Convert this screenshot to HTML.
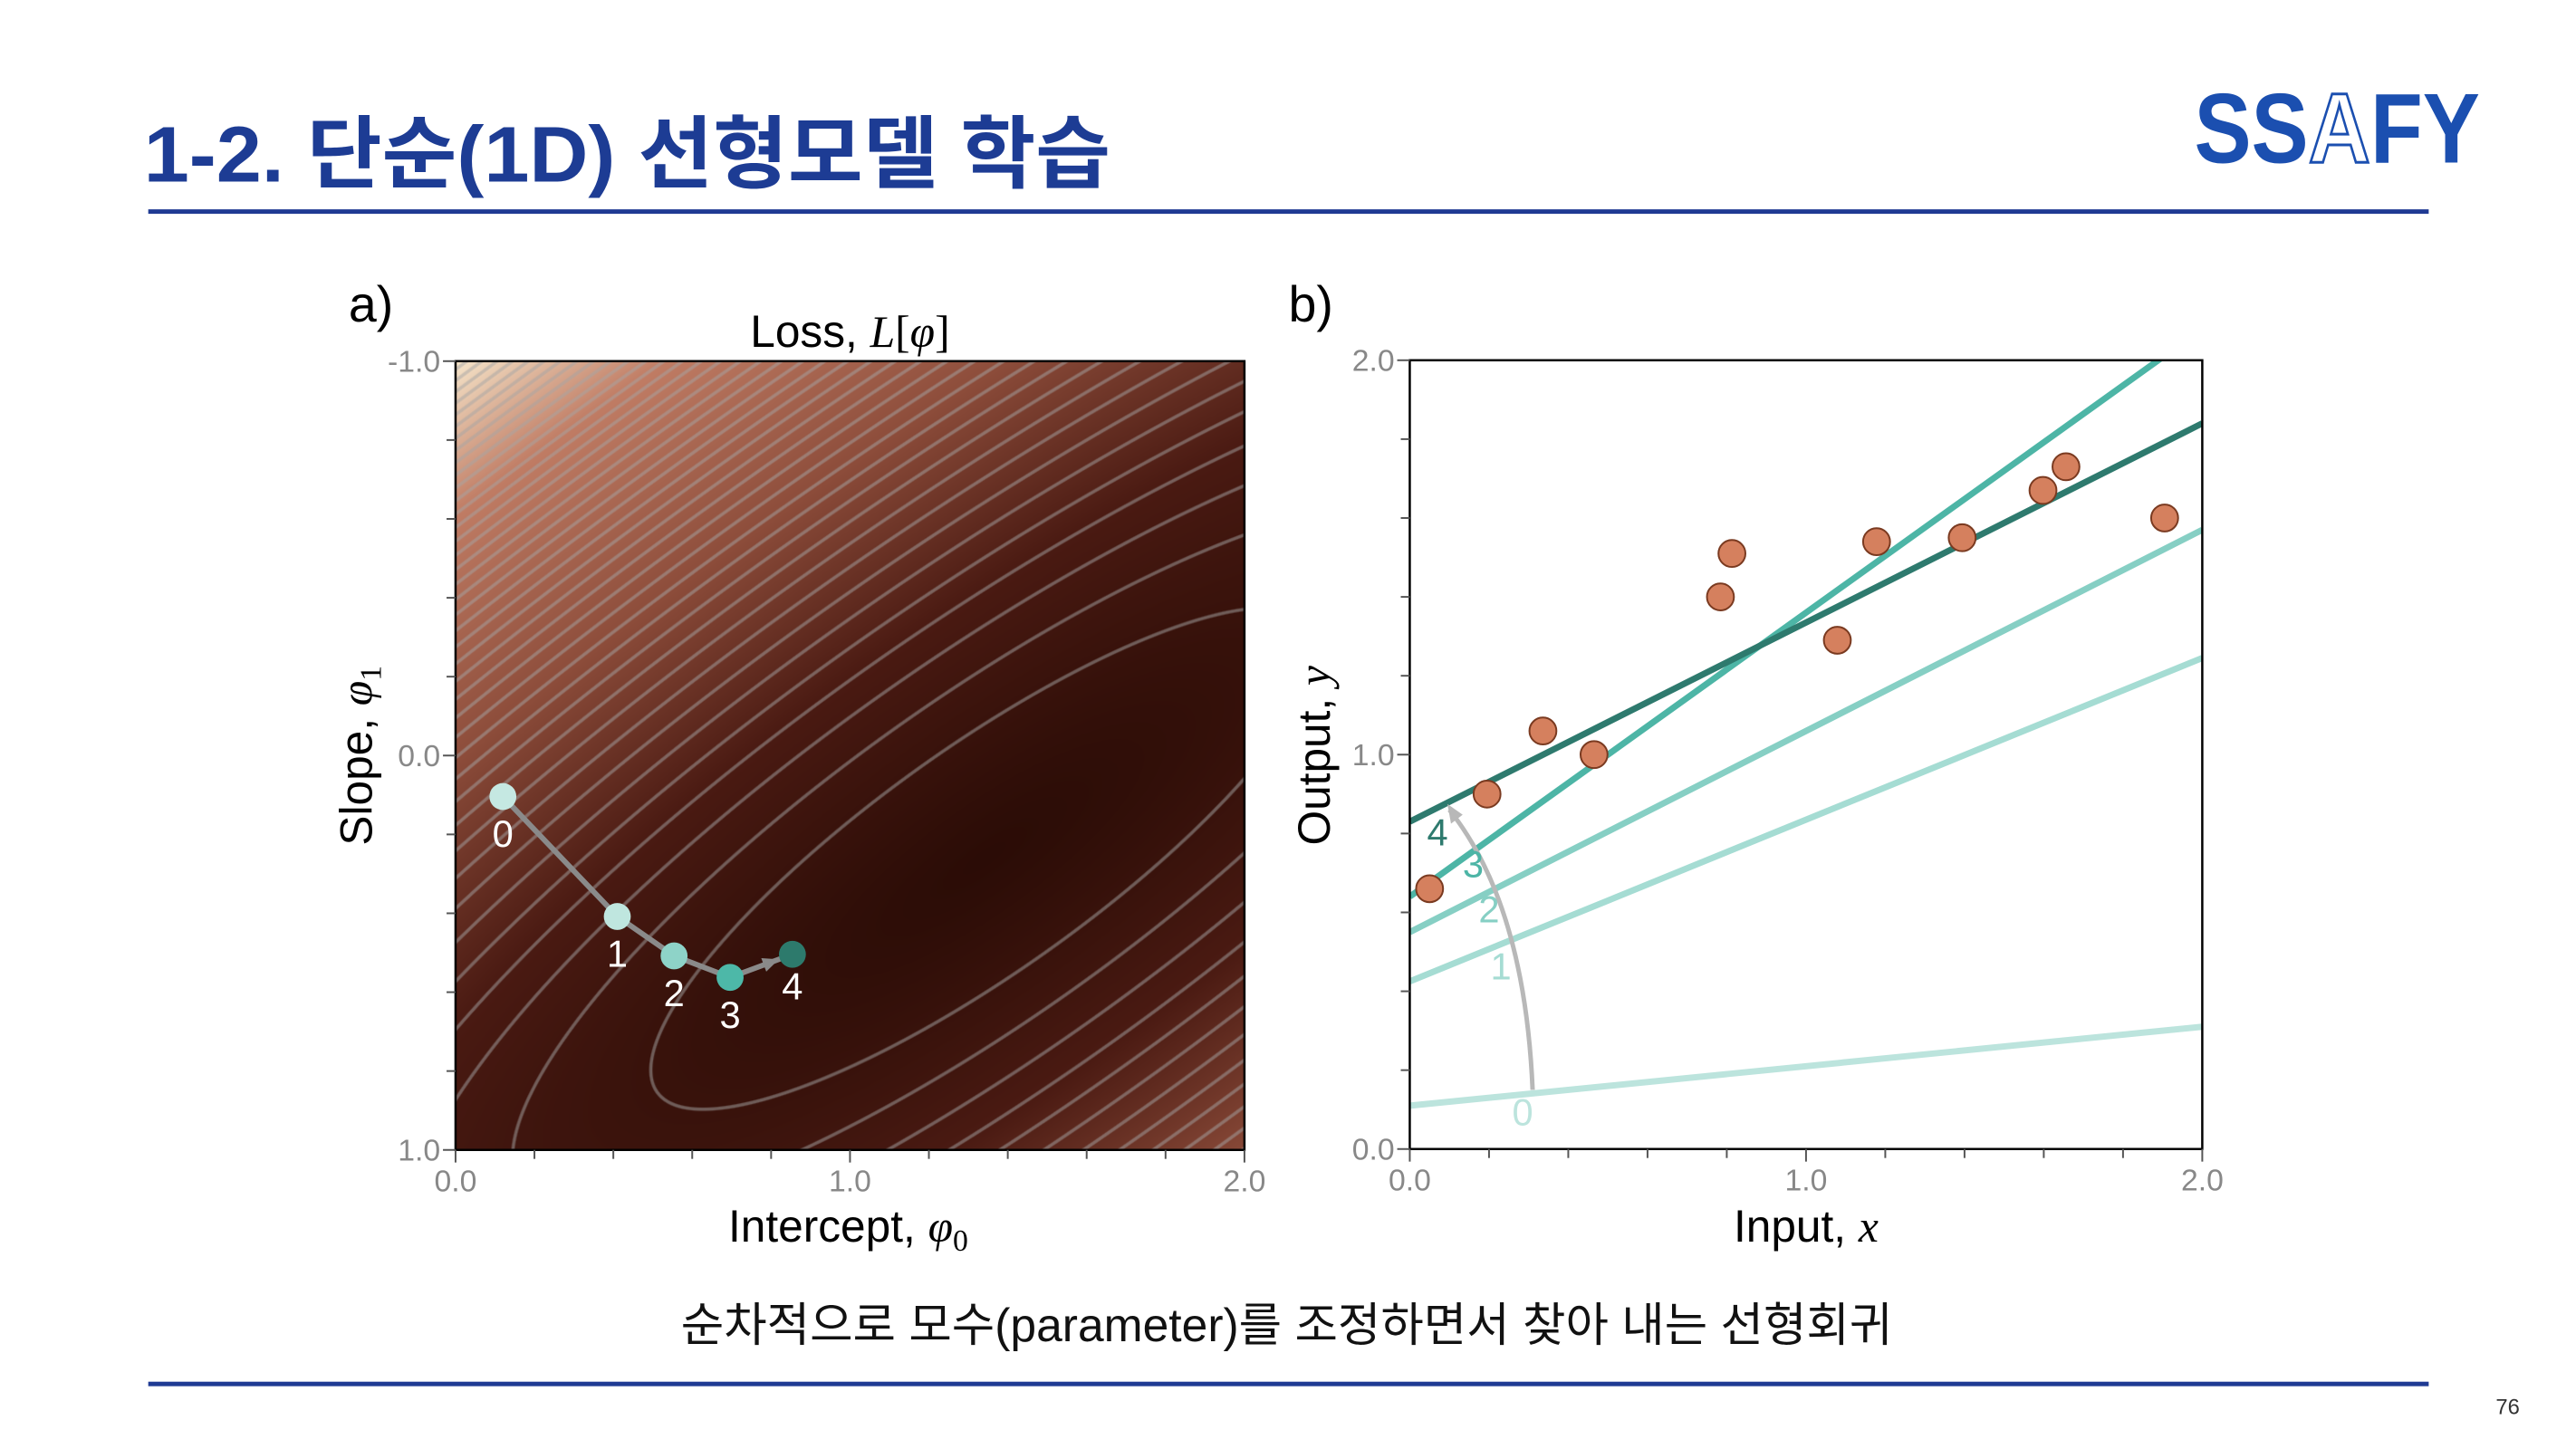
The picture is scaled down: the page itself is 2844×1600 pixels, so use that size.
<!DOCTYPE html>
<html><head><meta charset="utf-8">
<style>
html,body{margin:0;padding:0;background:#fff;width:2844px;height:1600px;overflow:hidden;}
#root{position:relative;width:2844px;height:1600px;overflow:hidden;background:#fff;font-family:"Liberation Sans","Noto Sans CJK KR",sans-serif;transform:scale(0.992);transform-origin:0 0;}
#heat{position:absolute;left:507px;top:402px;width:878px;height:878px;}
svg{position:absolute;left:0;top:0;}
</style></head>
<body>
<div id="root">
<canvas id="heat" width="878" height="878"></canvas>
<svg id="main" width="2844" height="1600" viewBox="0 0 2844 1600">
  <text x="160" y="202" font-size="88" font-weight="bold" fill="#1d3c94" textLength="1076" lengthAdjust="spacingAndGlyphs" font-family="'Liberation Sans','Noto Sans CJK KR',sans-serif">1-2. 단순(1D) 선형모델 학습</text>
  <text x="2442" y="181" font-size="110" font-weight="bold" fill="#1b4fb0" textLength="318" lengthAdjust="spacingAndGlyphs" font-family="'Liberation Sans',sans-serif">SS<tspan fill="#fff" stroke="#1b4fb0" stroke-width="3">A</tspan>FY</text>
  <rect x="165" y="233" width="2538" height="5" fill="#1f3a93"/>
  <rect x="165" y="1538" width="2538" height="5" fill="#1f3a93"/>
  <text x="1432" y="1493" font-size="52" text-anchor="middle" fill="#111">순차적으로 모수(parameter)를 조정하면서 찾아 내는 선형회귀</text>
  <text x="2791" y="1574" font-size="24" text-anchor="middle" fill="#333">76</text>
  <g id="ga"></g>
  <g id="gb"></g>
</svg>
</div>
<script>
// ---- Panel a data (descent path) ----
const pathPhi0 = [0.12, 0.41, 0.554, 0.696, 0.854];
const pathPhi1 = [0.104, 0.408, 0.508, 0.5625, 0.504];
const pathLabels = ["0","1","2","3","4"];
const axisTicksA = ["0.0","1.0","2.0"];
const axisTicksAy = ["-1.0","0.0","1.0"];
// ---- Panel b data ----
const dataX = [0.05,0.195,0.336,0.465,0.784,0.813,1.079,1.178,1.394,1.598,1.656,1.905];
const dataY = [0.66,0.90,1.06,1.00,1.40,1.51,1.29,1.54,1.55,1.67,1.73,1.60];
const lineIntercepts = [0.11,0.425,0.55,0.64,0.83];
const lineSlopes = [0.10,0.41,0.51,0.72,0.505];
const lineLabels = ["0","1","2","3","4"];
const axisTicksB = ["0.0","1.0","2.0"];

const NS="http://www.w3.org/2000/svg";
const stepColors=["#c5e8e2","#bfe6df","#8ed3c8","#4db8a8","#2d7a6c"];
const lineColors=["#bce4dd","#a5dcd3","#86cfc4","#4db5a6","#2e7a6e"];
function mk(tag,attrs,parent,text){const e=document.createElementNS(NS,tag);for(const k in attrs)e.setAttribute(k,attrs[k]);if(text!==undefined)e.textContent=text;parent.appendChild(e);return e;}

const A={x0:507,x1:1385,y0:402,y1:1280};
const B={x0:1569,x1:2451,y0:401,y1:1279};
const ax=v=>A.x0+(v/2)*(A.x1-A.x0);
const ay=v=>A.y0+((v+1)/2)*(A.y1-A.y0);
const bx=v=>B.x0+(v/2)*(B.x1-B.x0);
const by=v=>B.y1-(v/2)*(B.y1-B.y0);

// ---- heatmap ----
(function(){
  const c=document.getElementById('heat');const ctx=c.getContext('2d');
  const W=c.width,H=c.height;const img=ctx.createImageData(W,H);
  const cx=0.67,cy=0.63,mj=[0.814,-0.581],mn=[0.581,0.814],k=3.6,step=0.26;
  const L=(fx,fy)=>{const dx=fx-cx,dy=fy-cy;const u=dx*mj[0]+dy*mj[1];const v=(dx*mn[0]+dy*mn[1])*k;return u*u+v*v;};
  const stops=[[0,[43,12,6]],[0.25,[74,26,18]],[0.5,[140,76,58]],[0.8,[192,124,100]],[1,[245,227,200]]];
  function col(t){t=Math.max(0,Math.min(1,t));for(let i=1;i<stops.length;i++){if(t<=stops[i][0]){const a=stops[i-1],b=stops[i];const f=(t-a[0])/(b[0]-a[0]);return [0,1,2].map(j=>a[1][j]+(b[1][j]-a[1][j])*f);}}return stops[4][1];}
  for(let y=0;y<H;y++){for(let x=0;x<W;x++){
    const fx=x/W,fy=y/H;const l=L(fx,fy);
    const t=Math.pow(Math.min(1,l/10.5),0.6);let cc=col(t);
    const f=l/step;const gx=(L(fx+1/W,fy)-l)/step,gy=(L(fx,fy+1/H)-l)/step;const g=Math.hypot(gx,gy)+1e-9;
    const fr=f-Math.round(f);const d=Math.abs(fr)/g;let a=Math.max(0,1-Math.max(0,d-1.2)/1.2);
    if(f<0.5)a=0;
    a*=0.5;cc=cc.map(v=>v*(1-a)+165*a);
    const i=(y*W+x)*4;img.data[i]=cc[0];img.data[i+1]=cc[1];img.data[i+2]=cc[2];img.data[i+3]=255;}}
  ctx.putImageData(img,0,0);
})();

function axesFrame(g,P,xTicks,yTicks,nm){
  mk('rect',{x:P.x0,y:P.y0,width:P.x1-P.x0,height:P.y1-P.y0,fill:'none',stroke:'#000','stroke-width':2.5,},g);
  for(let i=0;i<=10;i++){const px=P.x0+i*(P.x1-P.x0)/10;const len=i%5==0?14:10;
    mk('line',{x1:px,y1:P.y1,x2:px,y2:P.y1+len,stroke:'#555','stroke-width':2},g);
    const py=P.y0+i*(P.y1-P.y0)/10;
    mk('line',{x1:P.x0,y1:py,x2:P.x0-len,y2:py,stroke:'#555','stroke-width':2},g);}
  xTicks.forEach((t,i)=>{const e=mk('text',{x:P.x0+i*(P.x1-P.x0)/2,y:P.y1+46,'font-size':34,'text-anchor':'middle',fill:'#888'},g,t);
    
    });
  yTicks.forEach((t,i)=>{const e=mk('text',{x:P.x0-17,y:P.y0+i*(P.y1-P.y0)/2+12,'font-size':34,'text-anchor':'end',fill:'#888'},g,t);
    
    });
}

// ---- Panel a ----
const ga=document.getElementById('ga');
axesFrame(ga,A,axisTicksA,axisTicksAy,'panel-a');
mk('text',{x:388,y:358,'font-size':56,fill:'#000',},ga,'a)');
const ta=mk('text',{x:946,y:386,'font-size':50,'text-anchor':'middle',fill:'#000',},ga);
ta.innerHTML='Loss, <tspan font-family="Liberation Serif" font-style="italic">L</tspan><tspan font-family="Liberation Serif">[</tspan><tspan font-family="Liberation Serif" font-style="italic">φ</tspan><tspan font-family="Liberation Serif">]</tspan>';
const xta=mk('text',{x:944,y:1382,'font-size':50,'text-anchor':'middle',fill:'#000',},ga);
xta.innerHTML='Intercept, <tspan font-family="Liberation Serif" font-style="italic">φ</tspan><tspan font-size="34" dy="10" font-family="Liberation Serif">0</tspan>';
const yta=mk('text',{x:0,y:0,transform:'translate(414,841) rotate(-90)','font-size':50,'text-anchor':'middle',fill:'#000',},ga);
yta.innerHTML='Slope, <tspan font-family="Liberation Serif" font-style="italic">φ</tspan><tspan font-size="34" dy="10" font-family="Liberation Serif">1</tspan>';
let pts=pathPhi0.map((p,i)=>ax(p)+','+ay(pathPhi1[i])).join(' ');
mk('polyline',{points:pts,fill:'none',stroke:'#8a8a8a','stroke-width':6,},ga);
{const n=pathPhi0.length;const x2=ax(pathPhi0[n-1]),y2=ay(pathPhi1[n-1]),x1=ax(pathPhi0[n-2]),y1=ay(pathPhi1[n-2]);
 const ang=Math.atan2(y2-y1,x2-x1);const tx=x2-16*Math.cos(ang),ty=y2-16*Math.sin(ang);
 const p=[[tx,ty],[tx-18*Math.cos(ang)+8*Math.sin(ang),ty-18*Math.sin(ang)-8*Math.cos(ang)],[tx-18*Math.cos(ang)-8*Math.sin(ang),ty-18*Math.sin(ang)+8*Math.cos(ang)]];
 mk('polygon',{points:p.map(q=>q.join(',')).join(' '),fill:'#8a8a8a',},ga);}
pathPhi0.forEach((p,i)=>{
  const c=mk('circle',{cx:ax(p),cy:ay(pathPhi1[i]),r:15,fill:stepColors[i]},ga);
  
  
  const t=mk('text',{x:ax(p),y:ay(pathPhi1[i])+(i==4?50:56),'font-size':42,'text-anchor':'middle',fill:'#fff'},ga,pathLabels[i]);
  
  
});

// ---- Panel b ----
const gb=document.getElementById('gb');
mk('rect',{x:B.x0,y:B.y0,width:B.x1-B.x0,height:B.y1-B.y0,fill:'#fff'},gb);
const clip=mk('clipPath',{id:'clipb'},gb);mk('rect',{x:B.x0,y:B.y0,width:B.x1-B.x0,height:B.y1-B.y0},clip);
const lg=mk('g',{'clip-path':'url(#clipb)'},gb);
lineIntercepts.forEach((b0,i)=>{
  const l=mk('line',{x1:bx(0),y1:by(b0),x2:bx(2),y2:by(b0+2*lineSlopes[i]),stroke:lineColors[i],'stroke-width':7},lg);
  
  
});
mk('path',{d:`M ${bx(0.31)} ${by(0.15)} Q ${bx(0.29)} ${by(0.62)} ${bx(0.1)} ${by(0.86)}`,fill:'none',stroke:'#b8b8b8','stroke-width':5,},gb);
mk('polygon',{points:`${bx(0.095)},${by(0.875)} ${bx(0.095)+4},${by(0.875)+22} ${bx(0.095)+17},${by(0.875)+12}`,fill:'#b8b8b8',},gb);
const lblPos=[[0.285,0.06],[0.23,0.43],[0.2,0.575],[0.16,0.69],[0.07,0.77]];
lineLabels.forEach((s,i)=>{
  const t=mk('text',{x:bx(lblPos[i][0]),y:by(lblPos[i][1]),'font-size':42,'text-anchor':'middle',fill:lineColors[i]},gb,s);
  
  
});
dataX.forEach((x,i)=>{
  const c=mk('circle',{cx:bx(x),cy:by(dataY[i]),r:15,fill:'#d5805e',stroke:'#7a3a20','stroke-width':2},gb);
  
  
});
axesFrame(gb,B,axisTicksB,axisTicksB.slice().reverse(),'panel-b');
mk('text',{x:1434,y:358,'font-size':56,fill:'#000',},gb,'b)');
const xtb=mk('text',{x:2010,y:1382,'font-size':50,'text-anchor':'middle',fill:'#000',},gb);
xtb.innerHTML='Input, <tspan font-family="Liberation Serif" font-style="italic">x</tspan>';
const ytb=mk('text',{x:0,y:0,transform:'translate(1480,841) rotate(-90)','font-size':50,'text-anchor':'middle',fill:'#000',},gb);
ytb.innerHTML='Output, <tspan font-family="Liberation Serif" font-style="italic">y</tspan>';
</script>
</body></html>
